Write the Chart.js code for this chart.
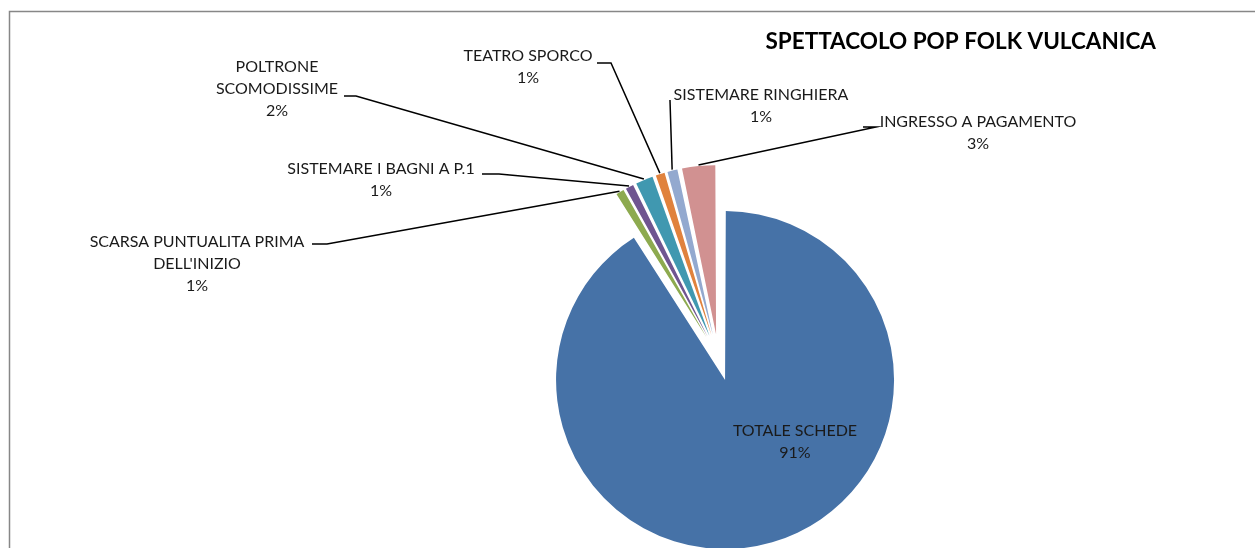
<!DOCTYPE html>
<html>
<head>
<meta charset="utf-8">
<script src="https://cdn.jsdelivr.net/npm/chart.js@4"></script>
<style>
  html, body { margin: 0; padding: 0; background: #fff; overflow: hidden; }
  #wrap { position: relative; width: 1255px; height: 548px; }
</style>
</head>
<body>
<div id="wrap"><canvas id="myChart"></canvas></div>
<script>
// dati del grafico
const chartTitle = 'SPETTACOLO POP FOLK VULCANICA';
const categories = [
  'TOTALE SCHEDE',
  "SCARSA PUNTUALITA PRIMA DELL'INIZIO",
  'SISTEMARE I BAGNI A P.1',
  'POLTRONE SCOMODISSIME',
  'TEATRO SPORCO',
  'SISTEMARE RINGHIERA',
  'INGRESSO A PAGAMENTO'
];
const values = [91.0, 0.9, 0.9, 1.8, 1.0, 1.1, 3.3];
const colors = ['#4672a7', '#8daa4f', '#6f5590', '#4098b0', '#e0823d', '#93a9cf', '#d19191'];

// posizione etichette (centro testo, larghezza max, tratto orizzontale della linea guida)
const labelLayout = [
  { cx: 795, y: 431, maxW: 400, stub: null },
  { cx: 197, y: 242, maxW: 260, stub: [312, 244, 327, 244] },
  { cx: 381, y: 169, maxW: 400, stub: [482, 174, 499, 174] },
  { cx: 277, y: 67,  maxW: 160, stub: [344, 96, 356, 96] },
  { cx: 528, y: 56,  maxW: 400, stub: [597, 63, 611, 63] },
  { cx: 761, y: 95,  maxW: 400, stub: [670, 100, 670, 100] },
  { cx: 978, y: 122, maxW: 400, stub: [863, 127, 876, 127] }
];

const FONT = '16px Lato, "Open Sans", sans-serif';
const RAGGIO = 169;
const GAP = 1.5;

function wrapText(ctx, text, maxW) {
  const words = text.split(' ');
  const lines = [];
  let cur = '';
  words.forEach(w => {
    const test = cur ? cur + ' ' + w : w;
    if (cur && ctx.measureText(test).width > maxW) {
      lines.push(cur);
      cur = w;
    } else {
      cur = test;
    }
  });
  if (cur) lines.push(cur);
  return lines;
}

const cornice = {
  id: 'cornice',
  beforeDraw(chart) {
    const ctx = chart.ctx;
    ctx.save();
    ctx.strokeStyle = '#878787';
    ctx.lineWidth = 1.5;
    ctx.beginPath();
    ctx.moveTo(9.5, chart.height + 5);
    ctx.lineTo(9.5, 11.5);
    ctx.lineTo(chart.width + 5, 11.5);
    ctx.stroke();
    ctx.restore();
  }
};

// stesso raggio per tutte le fette esplose, e fessure sottili come in Excel
const raggio = {
  id: 'raggio',
  afterDatasetUpdate(chart, args) {
    args.meta.data.forEach(arc => {
      const off = (arc.options.offset || 0) / 4;
      const fix = 1 - Math.sin(Math.min(Math.PI, arc.circumference));
      const o = off * fix;
      arc.outerRadius = RAGGIO - o;
      const delta = Math.max(0, o / Math.PI - GAP) / RAGGIO;
      arc.startAngle -= delta / 2;
      arc.endAngle += delta / 2;
    });
  }
};

const etichette = {
  id: 'etichette',
  afterDatasetsDraw(chart) {
    const ctx = chart.ctx;
    const meta = chart.getDatasetMeta(0);
    const total = values.reduce((a, b) => a + b, 0);
    ctx.save();
    ctx.font = FONT;
    meta.data.forEach((arc, i) => {
      const lay = labelLayout[i];
      const p = arc.getProps(['x', 'y', 'startAngle', 'endAngle'], true);
      const off = (arc.options.offset || 0) / 4;
      const mid = (p.startAngle + p.endAngle) / 2;
      const cx = p.x + Math.cos(mid) * off;
      const cy = p.y + Math.sin(mid) * off;
      const ex = cx + Math.cos(mid) * (RAGGIO + 1);
      const ey = cy + Math.sin(mid) * (RAGGIO + 1);

      if (lay.stub) {
        ctx.strokeStyle = '#000';
        ctx.lineWidth = 1.5;
        ctx.beginPath();
        ctx.moveTo(lay.stub[0], lay.stub[1]);
        ctx.lineTo(lay.stub[2], lay.stub[3]);
        ctx.lineTo(ex, ey);
        ctx.stroke();
      }

      const lines = wrapText(ctx, categories[i], lay.maxW);
      lines.push(Math.round(values[i] / total * 100) + '%');
      ctx.fillStyle = '#1a1a1a';
      ctx.textAlign = 'center';
      ctx.textBaseline = 'middle';
      lines.forEach((t, k) => ctx.fillText(t, lay.cx, lay.y + k * 22));
    });

    ctx.font = 'bold 22.5px Lato, "Open Sans", sans-serif';
    ctx.fillStyle = '#000';
    ctx.textAlign = 'right';
    ctx.textBaseline = 'middle';
    ctx.fillText(chartTitle, 1156, 42);
    ctx.restore();
  }
};

const grafico = document.getElementById('myChart');
new Chart(grafico, {
  type: 'pie',
  data: {
    labels: categories,
    datasets: [{
      data: values,
      backgroundColor: colors,
      borderWidth: 0,
      offset: 94,
      clip: false
    }]
  },
  options: {
    responsive: true,
    maintainAspectRatio: false,
    animation: false,
    radius: RAGGIO - 23.5,
    layout: { padding: { left: 182, right: 0, top: 167, bottom: 0 } },
    plugins: {
      legend: { display: false },
      tooltip: { enabled: false },
      title: { display: false }
    },
    events: []
  },
  plugins: [cornice, raggio, etichette]
});
</script>
</body>
</html>
